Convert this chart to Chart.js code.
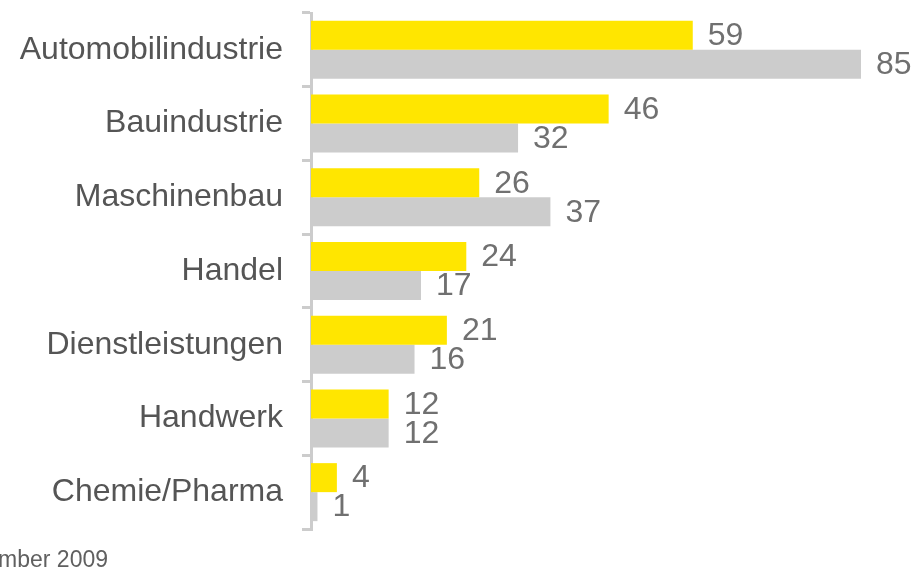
<!DOCTYPE html>
<html>
<head>
<meta charset="utf-8">
<script src="https://cdn.jsdelivr.net/npm/chart.js@4"></script>
<style>
  html, body { margin: 0; padding: 0; background: #fff; }
  #wrap { width: 913px; height: 573px; position: relative; }
</style>
</head>
<body>
<div id="wrap"><canvas id="myChart"></canvas></div>
<script>
const categories = ['Automobilindustrie', 'Bauindustrie', 'Maschinenbau', 'Handel', 'Dienstleistungen', 'Handwerk', 'Chemie/Pharma'];
const seriesYellow = [59, 46, 26, 24, 21, 12, 4];
const seriesGray = [85, 32, 37, 17, 16, 12, 1];
const footerText = 'Stand: November 2009';

const ctx = document.getElementById('myChart');

// value labels right of every bar
const valueLabels = {
    id: 'valueLabels',
    afterDatasetsDraw(chart) {
        const c = chart.ctx;
        c.save();
        c.font = '32px "Liberation Sans", Arial, sans-serif';
        c.fillStyle = '#707070';
        c.textAlign = 'left';
        c.textBaseline = 'middle';
        chart.data.datasets.forEach((ds, i) => {
            chart.getDatasetMeta(i).data.forEach((bar, j) => {
                c.fillText(String(ds.data[j]), bar.x + 15, bar.y + 1);
            });
        });
        c.restore();
    }
};

// cut off footer at bottom left
const footer = {
    id: 'footer',
    afterDraw(chart) {
        const c = chart.ctx;
        c.save();
        c.font = '23px "Liberation Sans", Arial, sans-serif';
        c.fillStyle = '#606060';
        c.textAlign = 'right';
        c.textBaseline = 'alphabetic';
        c.fillText(footerText, 108, 567);
        c.restore();
    }
};

new Chart(ctx, {
    type: 'bar',
    data: {
        labels: categories,
        datasets: [{
            data: seriesYellow,
            backgroundColor: '#FFE600',
            borderWidth: 0
        }, {
            data: seriesGray,
            backgroundColor: '#CCCCCC',
            borderWidth: 0
        }]
    },
    options: {
        indexAxis: 'y',
        responsive: true,
        maintainAspectRatio: false,
        animation: false,
        categoryPercentage: 0.787,
        barPercentage: 1,
        layout: {
            padding: { top: 13, bottom: 44, right: 52, left: 0 }
        },
        plugins: {
            legend: { display: false },
            tooltip: { enabled: false }
        },
        scales: {
            x: {
                display: false,
                min: 0,
                max: 85
            },
            y: {
                afterFit: scale => {
                    scale.width = 311;
                    scale.paddingTop = 0;
                    scale.paddingBottom = 0;
                },
                grid: {
                    display: true,
                    drawOnChartArea: false,
                    drawTicks: true,
                    tickLength: 9,
                    color: '#cccccc',
                    lineWidth: 3,
                    offset: true
                },
                border: {
                    display: true,
                    color: '#cccccc',
                    width: 3
                },
                ticks: {
                    padding: 19,
                    color: '#555555',
                    font: { family: '"Liberation Sans", Arial, sans-serif', size: 32 }
                }
            }
        }
    },
    plugins: [valueLabels, footer]
});
</script>
</body>
</html>
